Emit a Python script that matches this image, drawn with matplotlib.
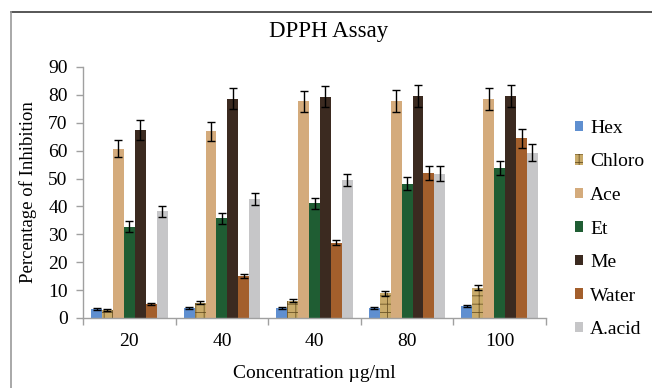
import matplotlib
matplotlib.use("Agg")
import matplotlib.pyplot as plt
import numpy as np
from matplotlib.lines import Line2D

categories = ["20", "40", "40", "80", "100"]
series = ["Hex", "Chloro", "Ace", "Et", "Me", "Water", "A.acid"]
hex_v = [3.1, 3.5, 3.5, 3.7, 4.2]
chloro_v = [3.0, 5.5, 6.2, 8.8, 10.9]
ace_v = [60.7, 66.9, 77.7, 77.7, 78.5]
et_v = [32.8, 35.8, 41.1, 48.1, 53.7]
me_v = [67.5, 78.7, 79.4, 79.6, 79.7]
water_v = [5.0, 15.1, 27.0, 51.9, 64.5]
aacid_v = [38.3, 42.6, 49.5, 51.7, 59.3]

hex_e = [0.4, 0.4, 0.4, 0.4, 0.4]
chloro_e = [0.4, 0.5, 0.6, 0.8, 0.8]
ace_e = [3.1, 3.5, 3.7, 4.0, 4.0]
et_e = [2.1, 2.0, 2.0, 2.3, 2.6]
me_e = [3.5, 3.8, 3.9, 3.9, 3.9]
water_e = [0.3, 0.8, 1.0, 2.5, 3.4]
aacid_e = [2.0, 2.2, 2.3, 2.7, 3.0]

values = [hex_v, chloro_v, ace_v, et_v, me_v, water_v, aacid_v]
errors = [hex_e, chloro_e, ace_e, et_e, me_e, water_e, aacid_e]
colors = ["#5f8fd0", "#c9ab6a", "#d4ab7c", "#1f5d33", "#3b2a20", "#a35f2c", "#c6c6c8"]
hatches = ["", "++", "", "", "", "", ""]
hatch_cols = ["#3a64a8", "#6b5426", "#b08a5c", "#2f7a45", "#2a1c14", "#7e4518", "#8a8a8c"]

plt.rcParams['font.family'] = ['Liberation Serif', 'DejaVu Serif']
plt.rcParams['hatch.linewidth'] = 0.6

fig = plt.figure(figsize=(6.52, 3.88), dpi=100)
ax = fig.add_axes([83/652, 1-318/388, (546-83)/652, (318-67)/388])

n = len(series)
x = np.arange(len(categories))
w = 0.118
for i in range(n):
    pos = x + (i - (n - 1) / 2) * w
    ax.bar(pos, values[i], width=w, color=colors[i], label=series[i],
           edgecolor=hatch_cols[i], linewidth=0, hatch=hatches[i], zorder=2)
    ax.errorbar(pos, values[i], yerr=errors[i], fmt='none', ecolor='black',
                elinewidth=1.0, capsize=3, capthick=1.0, zorder=3)

ax.set_xlim(-0.5, len(categories) - 0.5)
ax.set_ylim(0, 90)
ax.set_yticks(range(0, 91, 10))
ax.set_xticks(x)
ax.set_xticklabels(categories)
ax.set_xticks(np.arange(-0.5, len(categories), 1.0), minor=True)
ax.tick_params(axis='x', which='major', length=0, labelsize=14, pad=11)
ax.tick_params(axis='x', which='minor', length=5, color='#a0a0a0', width=1)
ax.tick_params(axis='y', length=5, color='#a0a0a0', width=1, labelsize=14, pad=6)
for s in ['top', 'right']:
    ax.spines[s].set_visible(False)
for s in ['left', 'bottom']:
    ax.spines[s].set_color('#a0a0a0')
    ax.spines[s].set_linewidth(1)

ax.set_ylabel("Percentage of Inhibition", fontsize=13.5, va='center')
ax.yaxis.set_label_coords((28 - 83) / 463, 0.5)
ax.set_xlabel("Concentration \u00b5g/ml", fontsize=14, va='center')
ax.xaxis.set_label_coords((314 - 83) / 463, (318 - 374) / 251)
fig.text(329 / 652, 1 - 31 / 388, "DPPH Assay", fontsize=16.5,
         ha='center', va='center')

leg = ax.legend(loc='upper left', bbox_to_anchor=(1.045, 0.82), frameon=False,
                fontsize=14, handlelength=0.45, handleheight=0.45, handletextpad=0.35,
                labelspacing=0.85, borderaxespad=0)

fig.lines.append(Line2D([11/652, 1], [1 - 12/388, 1 - 12/388], transform=fig.transFigure,
                        color='#3a3a3a', linewidth=1.2))
fig.lines.append(Line2D([11/652, 11/652], [0, 1 - 12/388], transform=fig.transFigure,
                        color='#999999', linewidth=1.2))

fig.savefig("out.png", dpi=100)
